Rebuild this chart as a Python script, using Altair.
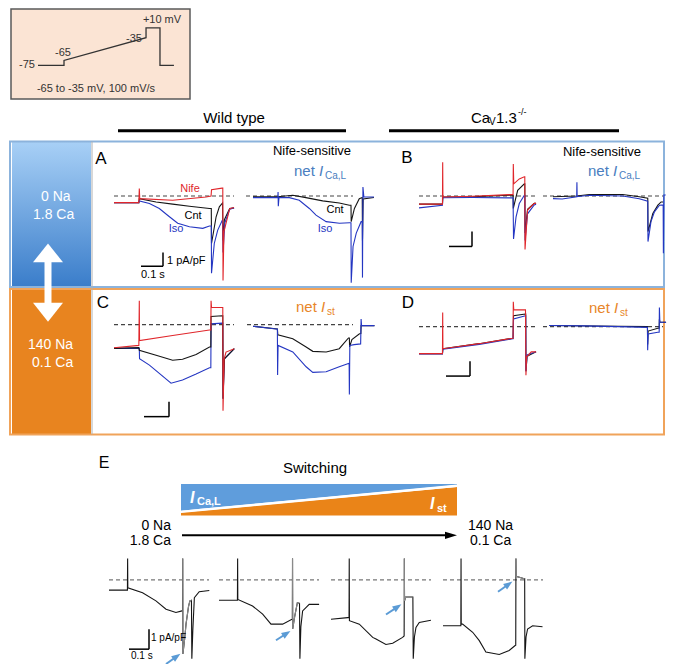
import math
import altair as alt
import pandas as pd

FONT = "Liberation Sans"
XD = [2, 661]
YD = [4, 667]

RED = "#e0262b"
BLACK = "#151515"
BLUE = "#2436c2"
GRAY = "#8a8a8a"
TXT_BLUE = "#4a7ec0"
TXT_ORANGE = "#e8862a"

# ---------------- trace data: t in ms, I in pA/pF ----------------
A1_T_ISO = [0, 108, 110, 154, 197, 241, 277, 328, 386, 415, 423, 424, 436, 451, 472, 474, 482, 503, 522]
A1_I_ISO = [-0.45, -0.45, -0.33, -0.51, -0.84, -1.4, -1.84, -2.07, -2.18, -2.02, -2.02, -5.2, -3.2, -2.3, -1.6, -3.8, -1.8, -0.9, -0.8]
A1_T_CNT = [0, 108, 110, 183, 255, 328, 415, 423, 424, 444, 458, 472, 474, 480, 503, 522]
A1_I_CNT = [-0.45, -0.45, -0.18, -0.4, -0.55, -0.69, -0.84, -0.84, -3.2, -1.4, -0.73, -0.47, -3.0, -1.6, -0.85, -0.8]
A1_T_NIFE = [0, 108, 110, 112, 255, 400, 422, 424, 470, 473, 474, 478, 503, 522]
A1_I_NIFE = [-0.45, -0.45, 0.5, -0.18, -0.29, -0.07, 0.0, 0.42, 0.53, 0.53, -5.7, -2.4, -0.85, -0.78]

A2_T_ISO = [0, 108, 109, 110, 113, 158, 201, 245, 274, 318, 376, 420, 426, 427, 435, 449, 470, 475, 476, 478, 482, 526]
A2_I_ISO = [-0.11, -0.1, 0.27, -0.69, -0.1, -0.11, -0.29, -0.84, -1.29, -1.73, -1.84, -1.8, -1.8, -5.85, -3.4, -2.5, -1.73, -1.73, -5.5, 0.6, -0.07, -0.07]
A2_T_CNT = [0, 108, 173, 230, 303, 375, 419, 426, 427, 441, 462, 475, 476, 479, 526]
A2_I_CNT = [-0.05, -0.05, 0.05, -0.11, -0.33, -0.47, -0.62, -0.62, -1.73, -0.84, -0.18, -0.1, -3.0, -0.2, -0.1]

B1_T_NIFE = [0, 102, 103, 104, 233, 393, 409, 410, 412, 436, 458, 460, 461, 472, 501, 509]
B1_I_NIFE = [-0.55, -0.55, 2.27, -0.07, -0.02, 0.09, 0.09, 2.15, 0.82, 1.15, 1.3, 1.3, -3.6, -0.95, -0.5, -0.5]
B1_T_CNT = [0, 102, 104, 233, 393, 409, 410, 429, 458, 460, 461, 472, 501, 509]
B1_I_CNT = [-0.55, -0.55, -0.07, -0.05, 0.05, 0.05, -0.84, 0.38, 0.82, 0.82, -2.5, -0.9, -0.5, -0.5]
B1_T_ISO = [0, 102, 103, 233, 393, 409, 411, 422, 436, 458, 460, 461, 472, 501, 509]
B1_I_ISO = [-0.8, -0.62, -0.12, -0.1, -0.13, -0.13, -2.9, -1.4, -0.51, 0.05, 0.05, -3.0, -1.2, -0.6, -0.55]

B2_T_ISO = [0, 40, 103, 104, 105, 158, 303, 375, 412, 413, 426, 441, 463, 479, 480, 482, 490]
B2_I_ISO = [-0.18, -0.2, -0.05, 0.93, -0.05, 0.05, 0.0, -0.18, -0.35, -3.07, -1.73, -1.07, -0.62, -0.6, -3.85, 0.07, 0.07]
B2_T_CNT = [0, 103, 158, 303, 375, 412, 413, 434, 456, 470, 479]
B2_I_CNT = [-0.05, 0.0, 0.1, 0.1, -0.05, -0.15, -2.4, -1.18, -0.62, -0.4, -0.4]

C1_T_NIFE = [0, 108, 110, 111, 255, 415, 421, 422, 424, 471, 473, 474, 479, 487, 523]
C1_I_NIFE = [-1.56, -1.4, 1.6, -1.07, -0.73, -0.36, -0.36, 1.6, 1.15, 1.15, 1.15, -5.8, -2.3, -1.85, -1.62]
C1_T_CNT = [0, 108, 110, 183, 255, 298, 357, 415, 421, 422, 471, 473, 474, 480, 523]
C1_I_CNT = [-1.6, -1.55, -1.73, -2.07, -2.4, -2.33, -2.02, -1.51, -1.51, 0.55, 0.6, 0.6, -5.0, -2.3, -1.62]
C1_T_ISO = [0, 108, 110, 111, 154, 197, 248, 298, 357, 415, 421, 422, 471, 473, 474, 480, 523]
C1_I_ISO = [-1.6, -1.6, -1.6, -2.29, -2.73, -3.29, -3.95, -3.73, -3.33, -2.91, -2.91, 0.05, 0.1, 0.1, -5.0, -2.3, -1.62]

C2_T_ISO = [0, 100, 106, 107, 109, 173, 231, 260, 318, 375, 418, 419, 421, 440, 468, 470, 472, 528]
C2_I_ISO = [-0.11, -0.29, -0.29, -3.4, -1.4, -1.84, -2.84, -3.22, -3.18, -2.84, -2.6, -4.7, -1.4, -1.35, -1.3, 0.38, -0.07, -0.07]
C2_T_CNT = [0, 106, 108, 173, 231, 260, 318, 375, 415, 419, 420, 430, 463, 469, 470, 528]
C2_I_CNT = [-0.11, -0.29, -0.69, -0.95, -1.51, -1.8, -1.84, -1.62, -0.9, -0.9, -1.5, -1.0, -0.62, -0.6, -0.07, -0.07]

D1_T_NIFE = [0, 102, 103, 104, 262, 408, 409, 410, 412, 463, 465, 468, 488, 509]
D1_I_NIFE = [-1.82, -1.82, 0.95, -1.49, -1.15, -0.78, -0.78, 1.67, 1.13, 1.13, -3.27, -2.05, -1.7, -1.7]
D1_T_CNT = [0, 102, 104, 262, 408, 409, 411, 463, 464, 465, 470, 509]
D1_I_CNT = [-1.82, -1.82, -1.49, -1.15, -0.78, -0.78, 0.73, 0.85, 0.85, -3.0, -2.0, -1.7]
D1_T_ISO = [0, 102, 104, 262, 408, 409, 411, 463, 464, 465, 470, 509]
D1_I_ISO = [-1.85, -1.85, -1.52, -1.2, -0.82, -0.82, 0.51, 0.73, 0.73, -3.0, -1.9, -1.7]

D2_T_ISO = [0, 150, 300, 428, 429, 431, 473, 479, 480, 482, 509]
D2_I_ISO = [0.07, 0.05, 0.0, -0.05, -1.6, -0.49, -0.38, -0.38, 1.29, 0.29, 0.29]
D2_T_CNT = [0, 300, 428, 429, 431, 473, 479, 480, 482, 509]
D2_I_CNT = [0.07, 0.02, 0.0, -1.2, -0.3, -0.11, -0.11, 0.5, 0.29, 0.29]

E1_T = [0, 95, 96, 97, 173, 242, 294, 345, 376, 379, 380, 381, 390, 397, 410, 417, 425, 427, 432, 440, 465, 517]
E1_I = [-0.5, -0.5, 1.05, -0.39, -0.63, -1.03, -1.44, -1.6, -1.52, -1.52, 1.05, -3.63, -2.9, -2.17, -1.3, -1.03, -1.0, -3.87, -2.5, -0.87, -0.58, -0.52]
E2_T = [0, 95, 96, 97, 173, 225, 268, 328, 376, 378, 379, 380, 390, 404, 415, 417, 422, 431, 465, 516]
E2_I = [-1.0, -1.0, 1.05, -0.96, -1.28, -1.68, -2.17, -2.17, -1.93, -1.93, 1.05, -2.41, -1.8, -1.12, -1.15, -3.87, -2.3, -1.52, -1.2, -1.2]
E3_T = [0, 86, 93, 94, 95, 146, 215, 232, 283, 318, 369, 377, 378, 379, 385, 422, 424, 430, 438, 455, 515]
E3_I = [-1.93, -1.85, -1.85, 1.05, -2.0, -2.17, -2.82, -2.9, -3.17, -3.11, -2.82, -2.75, 1.05, -1.03, -0.84, -0.84, -3.87, -2.8, -2.33, -2.09, -1.98]
E4_T = [0, 92, 93, 94, 101, 153, 187, 221, 290, 341, 372, 375, 376, 377, 419, 421, 422, 428, 436, 462, 513]
E4_I = [-2.25, -2.25, 1.05, -2.17, -2.17, -2.57, -2.98, -3.54, -3.66, -3.46, -3.22, -3.2, 1.05, 0.18, 0.06, 0.06, -3.87, -2.8, -2.41, -2.25, -2.3]

# time window of the +10 mV step drawn in grey in panel E (ms)
E_GRAY_WINDOW = {"E1": (380, 425), "E2": (379, 415), "E3": (378, 422), "E4": (376, 421)}

# protocol schematic
PROTO_T = [0, 110, 110, 457, 457, 516, 516, 575]
PROTO_MV = [-75, -75, -65, -35, 10, 10, -75, -75]

# ---------------- layout ----------------
PANEL_ORIGIN = {
    "A1": (108, 194), "A2": (247, 194), "B1": (413, 194), "B2": (547, 194),
    "C1": (108, 324), "C2": (247, 324), "D1": (413, 326), "D2": (543, 326),
    "E1": (103, 582), "E2": (213, 582), "E3": (325, 582), "E4": (437, 582),
}
AD_SCALE = (0.23, 15.0)     # px per ms, px per pA/pF
E_SCALE = (0.194, 20.6)

TRACES = [
    ("A1", "cnt", BLACK, 0, A1_T_CNT, A1_I_CNT),
    ("A1", "iso", BLUE, 1, A1_T_ISO, A1_I_ISO),
    ("A1", "nife", RED, 2, A1_T_NIFE, A1_I_NIFE),
    ("A2", "cnt", BLACK, 0, A2_T_CNT, A2_I_CNT),
    ("A2", "iso", BLUE, 1, A2_T_ISO, A2_I_ISO),
    ("B1", "cnt", BLACK, 0, B1_T_CNT, B1_I_CNT),
    ("B1", "iso", BLUE, 1, B1_T_ISO, B1_I_ISO),
    ("B1", "nife", RED, 2, B1_T_NIFE, B1_I_NIFE),
    ("B2", "cnt", BLACK, 0, B2_T_CNT, B2_I_CNT),
    ("B2", "iso", BLUE, 1, B2_T_ISO, B2_I_ISO),
    ("C1", "iso", BLUE, 0, C1_T_ISO, C1_I_ISO),
    ("C1", "cnt", BLACK, 1, C1_T_CNT, C1_I_CNT),
    ("C1", "nife", RED, 2, C1_T_NIFE, C1_I_NIFE),
    ("C2", "cnt", BLACK, 0, C2_T_CNT, C2_I_CNT),
    ("C2", "iso", BLUE, 1, C2_T_ISO, C2_I_ISO),
    ("D1", "cnt", BLACK, 0, D1_T_CNT, D1_I_CNT),
    ("D1", "iso", BLUE, 1, D1_T_ISO, D1_I_ISO),
    ("D1", "nife", RED, 2, D1_T_NIFE, D1_I_NIFE),
    ("D2", "cnt", BLACK, 0, D2_T_CNT, D2_I_CNT),
    ("D2", "iso", BLUE, 1, D2_T_ISO, D2_I_ISO),
    ("E1", "e", BLACK, 0, E1_T, E1_I),
    ("E2", "e", BLACK, 0, E2_T, E2_I),
    ("E3", "e", BLACK, 0, E3_T, E3_I),
    ("E4", "e", BLACK, 0, E4_T, E4_I),
]

rows = []
for panel, name, color, layer, ts, vs in TRACES:
    x0, y0 = PANEL_ORIGIN[panel]
    sx, sy = E_SCALE if panel.startswith("E") else AD_SCALE
    for i, (t, v) in enumerate(zip(ts, vs)):
        rows.append({"trace": panel + name, "i": i, "color": color, "layer": layer,
                     "x": x0 + t * sx, "y": y0 - v * sy})
    if panel in E_GRAY_WINDOW:
        lo, hi = E_GRAY_WINDOW[panel]
        for i, (t, v) in enumerate(zip(ts, vs)):
            if lo <= t <= hi:
                rows.append({"trace": panel + "gray", "i": i, "color": GRAY, "layer": 3,
                             "x": x0 + t * sx, "y": y0 - v * sy})
trace_df = pd.DataFrame(rows)

PROTO_LEVEL_Y = {-75: 62, -65: 57, -35: 34, 10: 24}
proto_df = pd.DataFrame({"i": range(len(PROTO_T)),
                         "x": [32 + t * 0.2364 for t in PROTO_T],
                         "y": [PROTO_LEVEL_Y[v] for v in PROTO_MV]})


def X(f="x"):
    return alt.X(f"{f}:Q", scale=alt.Scale(domain=XD, nice=False, zero=False), axis=None)


def Y(f="y"):
    return alt.Y(f"{f}:Q", scale=alt.Scale(domain=YD, nice=False, zero=False, reverse=True), axis=None)


layers = []

# ---------------- boxes ----------------
fill_rects = pd.DataFrame([
    {"x": 5, "x2": 184, "y": 5, "y2": 96, "fill": "#fbe4d4"},
    {"x": 6, "x2": 85, "y": 288, "y2": 435, "fill": "#e8841f"},
])
layers.append(alt.Chart(fill_rects).mark_rect().encode(
    x=X(), x2="x2:Q", y=Y(), y2="y2:Q", color=alt.Color("fill:N", scale=None)))

grad = {"gradient": "linear", "x1": 0, "x2": 0, "y1": 0, "y2": 1,
        "stops": [{"offset": 0, "color": "#a8d0f6"}, {"offset": 1, "color": "#3a7dca"}]}
layers.append(alt.Chart(pd.DataFrame([{"x": 6, "x2": 85, "y": 139, "y2": 286}])).mark_rect(fill=grad).encode(
    x=X(), x2="x2:Q", y=Y(), y2="y2:Q"))

border_rects = pd.DataFrame([
    {"x": 5, "x2": 184, "y": 5, "y2": 96, "stroke": "#595959", "w": 1.5},
    {"x": 4, "x2": 658, "y": 139, "y2": 286, "stroke": "#8cb3dc", "w": 2},
    {"x": 4, "x2": 658, "y": 288, "y2": 435, "stroke": "#f0a35a", "w": 2},
])
layers.append(alt.Chart(border_rects).mark_rect(fill="transparent").encode(
    x=X(), x2="x2:Q", y=Y(), y2="y2:Q",
    stroke=alt.Stroke("stroke:N", scale=None), strokeWidth=alt.StrokeWidth("w:Q", scale=None)))

# ---------------- banner (Switching) ----------------
blue_area = pd.DataFrame({"x": [175, 451], "ya": [485, 485], "yb": [512, 485.5]})
orange_area = pd.DataFrame({"x": [175, 451], "ya": [514.5, 488], "yb": [517, 517]})
layers.append(alt.Chart(blue_area).mark_area(color="#5f9ddc").encode(x=X(), y=Y("ya"), y2="yb:Q"))
layers.append(alt.Chart(orange_area).mark_area(color="#ea8418").encode(x=X(), y=Y("ya"), y2="yb:Q"))

# ---------------- rules ----------------
solid_rules = pd.DataFrame([
    {"x": 112, "y": 128, "x2": 340, "y2": 128, "c": "#000000", "w": 3},
    {"x": 383, "y": 128, "x2": 613, "y2": 128, "c": "#000000", "w": 3},
    {"x": 86, "y": 139, "x2": 86, "y2": 435, "c": "#b0b0b0", "w": 1},
    {"x": 135, "y": 265, "x2": 157, "y2": 265, "c": "#000000", "w": 1.5},
    {"x": 157, "y": 251, "x2": 157, "y2": 265, "c": "#000000", "w": 1.5},
    {"x": 443, "y": 245, "x2": 466, "y2": 245, "c": "#000000", "w": 1.5},
    {"x": 466, "y": 230, "x2": 466, "y2": 245, "c": "#000000", "w": 1.5},
    {"x": 138, "y": 417, "x2": 163, "y2": 417, "c": "#000000", "w": 1.5},
    {"x": 163, "y": 402, "x2": 163, "y2": 417, "c": "#000000", "w": 1.5},
    {"x": 440, "y": 376, "x2": 464, "y2": 376, "c": "#000000", "w": 1.5},
    {"x": 464, "y": 361, "x2": 464, "y2": 376, "c": "#000000", "w": 1.5},
    {"x": 123, "y": 652, "x2": 143, "y2": 652, "c": "#000000", "w": 1.5},
    {"x": 143, "y": 632, "x2": 143, "y2": 652, "c": "#000000", "w": 1.5},
    {"x": 176, "y": 537, "x2": 443, "y2": 537, "c": "#000000", "w": 2},
    {"x": 175, "y": 513, "x2": 451, "y2": 487, "c": "#ffffff", "w": 2},
    {"x": 42, "y": 258, "x2": 42, "y2": 305, "c": "#ffffff", "w": 7},
])

BLUE_ARROWS = [((160, 667), (174, 657)), ((270, 643), (284, 634)),
               ((380, 617), (395, 607)), ((492, 594), (506, 584))]
heads = [
    {"x": 42, "y": 251.5, "shape": "M0,-0.63L1,0.63L-1,0.63Z", "size": 900, "angle": 0, "c": "#ffffff"},
    {"x": 42, "y": 311.5, "shape": "M0,0.63L1,-0.63L-1,-0.63Z", "size": 900, "angle": 0, "c": "#ffffff"},
    {"x": 445, "y": 537, "shape": "M1,0L-1,0.6L-1,-0.6Z", "size": 144, "angle": 0, "c": "#000000"},
]
arrow_rules = []
for (tx, ty), (hx, hy) in BLUE_ARROWS:
    L = math.hypot(hx - tx, hy - ty)
    ux, uy = (hx - tx) / L, (hy - ty) / L
    ang = math.degrees(math.atan2(hy - ty, hx - tx)) % 360
    arrow_rules.append({"x": tx, "y": ty, "x2": hx - 5 * ux, "y2": hy - 5 * uy, "c": "#5b9bd5", "w": 2})
    heads.append({"x": hx - 4 * ux, "y": hy - 4 * uy, "shape": "M1,0L-1,0.75L-1,-0.75Z",
                  "size": 81, "angle": ang, "c": "#5b9bd5"})
solid_rules = pd.concat([solid_rules, pd.DataFrame(arrow_rules)], ignore_index=True)

layers.append(alt.Chart(solid_rules).mark_rule().encode(
    x=X(), y=Y(), x2="x2:Q", y2="y2:Q",
    color=alt.Color("c:N", scale=None), strokeWidth=alt.StrokeWidth("w:Q", scale=None)))

dashed = pd.DataFrame([
    {"x": 108, "x2": 228, "y": 194, "c": "#444444"}, {"x": 240, "x2": 347, "y": 194, "c": "#444444"},
    {"x": 413, "x2": 530, "y": 194, "c": "#444444"}, {"x": 537, "x2": 657, "y": 194, "c": "#444444"},
    {"x": 108, "x2": 228, "y": 324, "c": "#444444"}, {"x": 241, "x2": 347, "y": 324, "c": "#444444"},
    {"x": 413, "x2": 530, "y": 326, "c": "#444444"}, {"x": 537, "x2": 657, "y": 326, "c": "#444444"},
    {"x": 103, "x2": 203, "y": 582, "c": "#777777"}, {"x": 213, "x2": 313, "y": 582, "c": "#777777"},
    {"x": 325, "x2": 425, "y": 582, "c": "#777777"}, {"x": 437, "x2": 537, "y": 582, "c": "#777777"},
])
layers.append(alt.Chart(dashed).mark_rule(strokeDash=[4, 3], strokeWidth=1.1).encode(
    x=X(), x2="x2:Q", y=Y(), color=alt.Color("c:N", scale=None)))

# protocol
layers.append(alt.Chart(proto_df).mark_line(color="#333333", strokeWidth=1.3).encode(
    x=X(), y=Y(), order="i:Q"))

# traces
for lay in [0, 1, 2, 3]:
    sub = trace_df[trace_df["layer"] == lay]
    layers.append(alt.Chart(sub).mark_line(strokeWidth=1.1).encode(
        x=X(), y=Y(), detail="trace:N", order="i:Q", color=alt.Color("color:N", scale=None)))

# arrowheads
layers.append(alt.Chart(pd.DataFrame(heads)).mark_point(filled=True, opacity=1, strokeWidth=0).encode(
    x=X(), y=Y(), shape=alt.Shape("shape:N", scale=None), size=alt.Size("size:Q", scale=None),
    angle=alt.Angle("angle:Q", scale=None), color=alt.Color("c:N", scale=None)))

# ---------------- texts ----------------
W = "#ffffff"
K = "#000000"
G = "#333333"
TEXTS = [
    ("-75", 21, 62, 11, G, "center", "normal", "normal"),
    ("-65", 57, 49, 11, G, "center", "normal", "normal"),
    ("-35", 128, 35, 11, G, "center", "normal", "normal"),
    ("+10 mV", 156, 16, 11, G, "center", "normal", "normal"),
    ("-65 to -35 mV, 100 mV/s", 90, 86, 11, G, "center", "normal", "normal"),
    ("Wild type", 228, 115, 15, K, "center", "normal", "normal"),
    ("Ca", 465, 115, 15, K, "left", "normal", "normal"),
    ("V", 483, 119, 10, K, "left", "normal", "normal"),
    ("1.3", 490, 115, 15, K, "left", "normal", "normal"),
    ("-/-", 512, 109, 9, K, "left", "normal", "normal"),
    ("0 Na", 35, 195, 14, W, "left", "normal", "normal"),
    ("1.8 Ca", 27, 213, 14, W, "left", "normal", "normal"),
    ("140 Na", 22, 345, 14, W, "left", "normal", "normal"),
    ("0.1 Ca", 26, 363, 14, W, "left", "normal", "normal"),
    ("A", 95, 157, 17, K, "center", "normal", "normal"),
    ("B", 401, 156, 17, K, "center", "normal", "normal"),
    ("C", 97, 302, 17, K, "center", "normal", "normal"),
    ("D", 402, 302, 17, K, "center", "normal", "normal"),
    ("Nife-sensitive", 306, 149, 13, K, "center", "normal", "normal"),
    ("Nife-sensitive", 596, 150, 13, K, "center", "normal", "normal"),
    ("net", 288, 169, 15, TXT_BLUE, "left", "normal", "normal"),
    ("I", 313, 169, 15, TXT_BLUE, "left", "italic", "normal"),
    ("Ca,L", 319, 174, 10, TXT_BLUE, "left", "normal", "normal"),
    ("net", 582, 169, 15, TXT_BLUE, "left", "normal", "normal"),
    ("I", 607, 169, 15, TXT_BLUE, "left", "italic", "normal"),
    ("Ca,L", 613, 174, 10, TXT_BLUE, "left", "normal", "normal"),
    ("net", 290, 306, 15, TXT_ORANGE, "left", "normal", "normal"),
    ("I", 315, 306, 15, TXT_ORANGE, "left", "italic", "normal"),
    ("st", 321, 311, 10, TXT_ORANGE, "left", "normal", "normal"),
    ("net", 583, 307, 15, TXT_ORANGE, "left", "normal", "normal"),
    ("I", 608, 307, 15, TXT_ORANGE, "left", "italic", "normal"),
    ("st", 614, 312, 10, TXT_ORANGE, "left", "normal", "normal"),
    ("Nife", 184, 187, 11, RED, "center", "normal", "normal"),
    ("Cnt", 187, 214, 11, K, "center", "normal", "normal"),
    ("Iso", 170, 227, 11, BLUE, "center", "normal", "normal"),
    ("Cnt", 329, 208, 11, K, "center", "normal", "normal"),
    ("Iso", 319, 227, 11, BLUE, "center", "normal", "normal"),
    ("1 pA/pF", 161, 260, 11, K, "left", "normal", "normal"),
    ("0.1 s", 135, 274, 11, K, "left", "normal", "normal"),
    ("E", 98, 464, 16, K, "center", "normal", "normal"),
    ("Switching", 309, 469, 15, K, "center", "normal", "normal"),
    ("I", 184, 499, 16, W, "left", "italic", "bold"),
    ("Ca,L", 191, 503, 11, W, "left", "normal", "bold"),
    ("I", 424, 505, 16, W, "left", "italic", "bold"),
    ("st", 431, 510, 11, W, "left", "normal", "bold"),
    ("0 Na", 165, 528, 14, K, "right", "normal", "normal"),
    ("1.8 Ca", 165, 543, 14, K, "right", "normal", "normal"),
    ("140 Na", 462, 528, 14, K, "left", "normal", "normal"),
    ("0.1 Ca", 464, 543, 14, K, "left", "normal", "normal"),
    ("1 pA/pF", 145, 641, 10, K, "left", "normal", "normal"),
    ("0.1 s", 125, 659, 10, K, "left", "normal", "normal"),
]
text_df = pd.DataFrame(TEXTS, columns=["text", "x", "y", "size", "color", "align", "style", "weight"])
for (al, st, wt), sub in text_df.groupby(["align", "style", "weight"]):
    layers.append(alt.Chart(sub).mark_text(align=al, baseline="middle", font=FONT,
                                           fontStyle=st, fontWeight=wt).encode(
        x=X(), y=Y(), text="text:N", color=alt.Color("color:N", scale=None),
        size=alt.Size("size:Q", scale=None)))

chart = alt.layer(*layers).properties(
    width=659, height=656, padding=0,
    autosize=alt.AutoSizeParams(type="none"), background="white"
).configure_view(stroke=None)

chart.save("out.html", embed_options={"renderer": "svg", "actions": False})
